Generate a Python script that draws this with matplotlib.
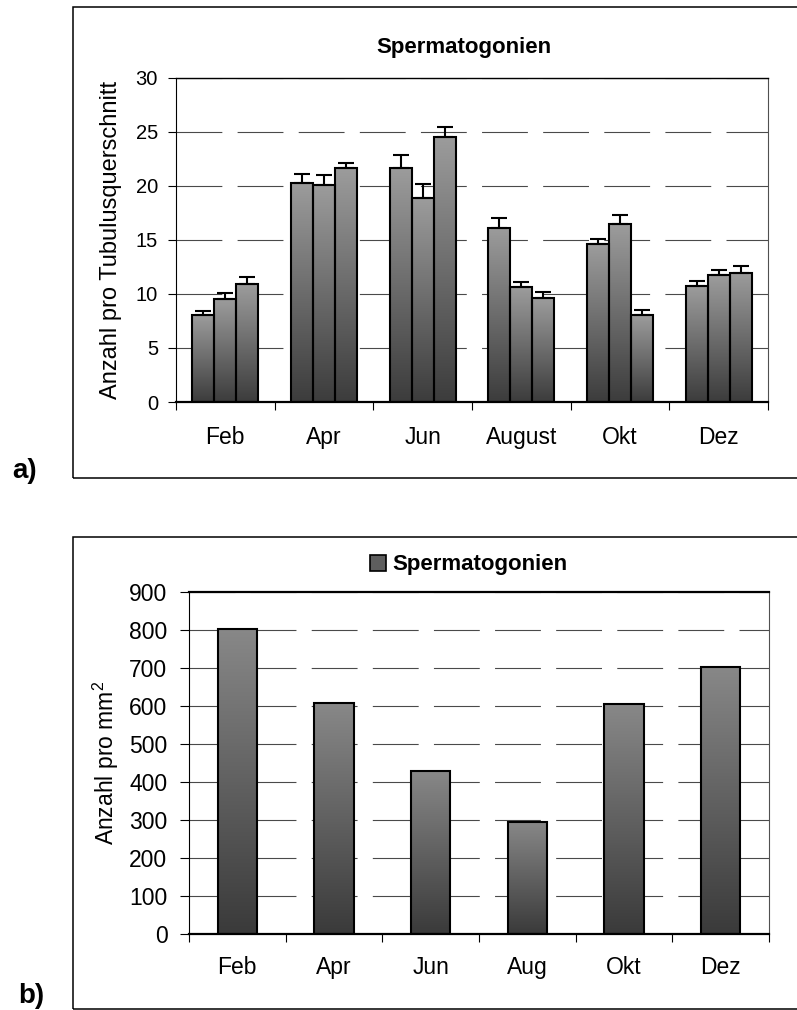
import numpy as np
import matplotlib
matplotlib.use("Agg")
import matplotlib.pyplot as plt
from matplotlib.colors import LinearSegmentedColormap
from matplotlib.patches import Rectangle, Patch

plt.rcParams['font.family'] = ['Liberation Sans', 'DejaVu Sans']
plt.rcParams['mathtext.fontset'] = 'custom'
plt.rcParams['mathtext.rm'] = 'Liberation Sans'
plt.rcParams['lines.scale_dashes'] = False

# ---- data: panel a ----
months_a = ["Feb", "Apr", "Jun", "August", "Okt", "Dez"]
series1 = [8.0, 20.25, 21.6, 16.1, 14.6, 10.7]
series2 = [9.5, 20.1, 18.85, 10.6, 16.45, 11.7]
series3 = [10.9, 21.6, 24.5, 9.6, 8.0, 11.95]
err1 = [0.4, 0.8, 1.2, 0.95, 0.5, 0.45]
err2 = [0.55, 0.9, 1.35, 0.5, 0.8, 0.5]
err3 = [0.7, 0.5, 0.95, 0.6, 0.5, 0.6]
title_a = "Spermatogonien"
ylabel_a = "Anzahl pro Tubulusquerschnitt"
yticks_a = [0, 5, 10, 15, 20, 25, 30]

# ---- data: panel b ----
months_b = ["Feb", "Apr", "Jun", "Aug", "Okt", "Dez"]
values_b = [802, 607, 430, 296, 604, 703]
legend_b = "Spermatogonien"
ylabel_b = "Anzahl pro mm$^{2}$"
yticks_b = [0, 100, 200, 300, 400, 500, 600, 700, 800, 900]

W, H = 797, 1010
fig = plt.figure(figsize=(W / 100, H / 100), dpi=100)


def gradient_bars(ax, bars, c_bottom, c_top):
    cmap = LinearSegmentedColormap.from_list("g", [c_bottom, c_top])
    grad = np.linspace(0, 1, 256).reshape(-1, 1)
    for b in bars:
        x, y = b.get_x(), b.get_y()
        w, h = b.get_width(), b.get_height()
        ax.imshow(grad, extent=[x, x + w, y, y + h], origin="lower",
                  aspect="auto", cmap=cmap, zorder=2, interpolation="bilinear")
        b.set_facecolor("none")


def style_axes(ax, ylim, yticks, ytick_size, ytick_len, ytick_pad, labels,
               xlab_size, xlab_pad):
    n = len(labels)
    ax.set_xlim(-0.5, n - 0.5)
    ax.set_ylim(*ylim)
    ax.set_yticks(yticks)
    ax.tick_params(axis="y", direction="out", length=ytick_len, width=0.8,
                   pad=ytick_pad, labelsize=ytick_size, colors="black")
    ax.set_xticks(np.arange(-0.5, n, 1.0))
    ax.set_xticklabels([])
    ax.set_xticks(np.arange(n), minor=True)
    ax.set_xticklabels(labels, minor=True)
    ax.tick_params(axis="x", which="major", direction="out", length=6,
                   width=0.8, color="black")
    ax.tick_params(axis="x", which="minor", length=0, pad=xlab_pad,
                   labelsize=xlab_size)
    ax.set_axisbelow(True)
    ax.yaxis.grid(True, color="#4a4a4a", linewidth=0.8,
                  linestyle=(0, (33, 11)), zorder=0.5)
    ax.spines["bottom"].set_linewidth(1.6)
    ax.spines["left"].set_linewidth(0.8)
    ax.spines["top"].set_linewidth(1.0)
    ax.spines["right"].set_linewidth(0.8)
    ax.spines["right"].set_color("#505050")


# ---------------- panel a ----------------
ax1 = fig.add_axes([176 / W, 1 - 402 / H, 592 / W, 324.5 / H])
x = np.arange(len(months_a))
bw = 0.222
all_series = [series1, series2, series3]
all_err = [err1, err2, err3]
for i, (vals, err) in enumerate(zip(all_series, all_err)):
    pos = x + (i - 1) * bw
    bars = ax1.bar(pos, vals, width=bw, edgecolor="black", linewidth=1.5,
                   zorder=3)
    gradient_bars(ax1, bars, "#3c3c3c", "#9c9c9c")
    ax1.errorbar(pos, vals, yerr=[np.zeros(len(vals)), err], fmt="none",
                 ecolor="black", elinewidth=1.5, capsize=5.5, capthick=1.5,
                 zorder=4)
style_axes(ax1, (0, 30), yticks_a, 14.5, 5.5, 7.5, months_a, 16.5, 17)
ax1.set_ylabel(ylabel_a, fontsize=17)
ax1.yaxis.set_label_coords((122.5 - 176) / 592, 0.5)
ax1.text(0.487, 1 + 25 / 324.5, title_a, transform=ax1.transAxes,
         ha="center", va="baseline", fontsize=16, fontweight="bold")

# ---------------- panel b ----------------
ax2 = fig.add_axes([189 / W, 1 - 934 / H, 580 / W, 342 / H])
xb = np.arange(len(months_b))
bars_b = ax2.bar(xb, values_b, width=0.41, edgecolor="black", linewidth=1.5,
                 zorder=3)
gradient_bars(ax2, bars_b, "#3a3a3a", "#888888")
style_axes(ax2, (0, 900), yticks_b, 16.5, 6.5, 9, months_b, 16.5, 16)
ax2.spines["top"].set_linewidth(1.6)
ax2.set_ylabel(ylabel_b, fontsize=16.5)
ax2.yaxis.set_label_coords((121 - 189) / 580, 0.5)
leg = ax2.legend([Patch(facecolor="#5e5e5e", edgecolor="black", linewidth=1.2)],
                 [legend_b], loc="center", bbox_to_anchor=(0.482, 1.079),
                 frameon=False, handlelength=0.72, handleheight=0.72,
                 handletextpad=0.3, borderaxespad=0, borderpad=0,
                 prop={"size": 16, "weight": "bold"})

# ---------------- frames and panel labels ----------------
fig.add_artist(Rectangle((73 / W, 1 - 478 / H), 1.0, (478 - 7) / H,
                         transform=fig.transFigure, fill=False,
                         edgecolor="black", linewidth=1.1))
fig.add_artist(Rectangle((73 / W, 1 - 1009 / H), 1.0, (1009 - 537) / H,
                         transform=fig.transFigure, fill=False,
                         edgecolor="black", linewidth=1.1))
fig.text(12 / W, 1 - 478 / H, "a)", ha="left", va="baseline", fontsize=20,
         fontweight="bold")
fig.text(18 / W, 1 - 1003 / H, "b)", ha="left", va="baseline", fontsize=20,
         fontweight="bold")

fig.savefig("out.png", dpi=100, facecolor="white")
